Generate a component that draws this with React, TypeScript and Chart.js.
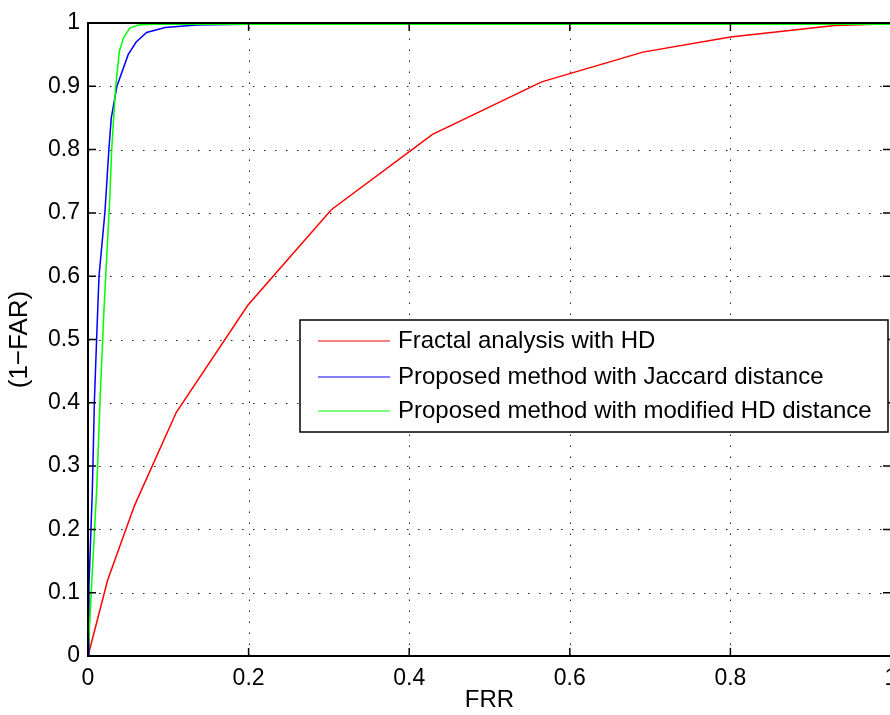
import React, { useEffect, useRef } from "react";
import { Chart, registerables } from "chart.js";

Chart.register(...registerables);

// ---- data ----
const xTicks = [0, 0.2, 0.4, 0.6, 0.8, 1];
const yTicks = [0, 0.1, 0.2, 0.3, 0.4, 0.5, 0.6, 0.7, 0.8, 0.9, 1];

const seriesLabels = [
  "Fractal analysis with HD",
  "Proposed method with Jaccard distance",
  "Proposed method with modified HD distance",
];
const seriesColors = ["#ff0000", "#0000ff", "#00ff00"];

const fractalFRR = [0, 0.0245, 0.058, 0.11, 0.199, 0.303, 0.429, 0.565, 0.691, 0.8, 0.93, 1.0];
const fractalGAR = [0, 0.12, 0.238, 0.385, 0.554, 0.705, 0.824, 0.907, 0.954, 0.978, 0.996, 0.999];

const jaccardFRR = [0, 0.0012, 0.0054, 0.008, 0.011, 0.0137, 0.021, 0.026, 0.029, 0.036, 0.05, 0.06, 0.073, 0.096, 0.135, 0.2, 1.0];
const jaccardGAR = [0, 0.11, 0.262, 0.404, 0.51, 0.6, 0.7, 0.8, 0.85, 0.9, 0.95, 0.97, 0.985, 0.993, 0.997, 0.998, 0.998];

const modHdFRR = [0, 0.0046, 0.0108, 0.015, 0.02, 0.027, 0.0295, 0.0345, 0.039, 0.044, 0.052, 0.0626, 0.08, 1.0];
const modHdGAR = [0, 0.115, 0.262, 0.404, 0.55, 0.72, 0.8, 0.9, 0.955, 0.976, 0.992, 0.997, 0.998, 0.998];

const FONT = '"Liberation Sans", Arial, Helvetica, sans-serif';

const toPoints = (xs: number[], ys: number[]) => xs.map((x, i) => ({ x, y: ys[i] }));

const framePlugin = {
  id: "matlabFrame",
  beforeDatasetsDraw(chart: any) {
    const { ctx, chartArea: a, scales } = chart;
    const x = scales.x;
    const y = scales.y;
    ctx.save();
    ctx.strokeStyle = "#222";
    ctx.lineWidth = 1;
    ctx.setLineDash([1.5, 9.5]);
    for (const v of xTicks) {
      const px = Math.round(x.getPixelForValue(v)) + 0.5;
      ctx.beginPath();
      ctx.moveTo(px, a.bottom);
      ctx.lineTo(px, a.top);
      ctx.stroke();
    }
    for (const v of yTicks) {
      const py = Math.round(y.getPixelForValue(v)) + 0.5;
      ctx.beginPath();
      ctx.moveTo(a.left, py);
      ctx.lineTo(a.right, py);
      ctx.stroke();
    }
    ctx.restore();
  },
  afterDatasetsDraw(chart: any) {
    const { ctx, chartArea: a, scales } = chart;
    const x = scales.x;
    const y = scales.y;
    ctx.save();
    ctx.setLineDash([]);
    ctx.strokeStyle = "#000";
    ctx.lineWidth = 1.5;
    const tl = 8;
    for (const v of xTicks) {
      const px = x.getPixelForValue(v);
      ctx.beginPath();
      ctx.moveTo(px, a.bottom);
      ctx.lineTo(px, a.bottom - tl);
      ctx.moveTo(px, a.top);
      ctx.lineTo(px, a.top + tl);
      ctx.stroke();
    }
    for (const v of yTicks) {
      const py = y.getPixelForValue(v);
      ctx.beginPath();
      ctx.moveTo(a.left, py);
      ctx.lineTo(a.left + tl, py);
      ctx.moveTo(a.right, py);
      ctx.lineTo(a.right - tl, py);
      ctx.stroke();
    }
    ctx.lineWidth = 2;
    ctx.strokeRect(a.left, a.top, a.right - a.left, a.bottom - a.top);
    ctx.restore();
  },
  afterDraw(chart: any) {
    const { ctx } = chart;
    const bx = 300, by = 320, bw = 588, bh = 112;
    ctx.save();
    ctx.fillStyle = "#fff";
    ctx.fillRect(bx, by, bw, bh);
    ctx.strokeStyle = "#000";
    ctx.lineWidth = 1.5;
    ctx.strokeRect(bx, by, bw, bh);
    ctx.font = `24px ${FONT}`;
    ctx.textBaseline = "middle";
    ctx.textAlign = "left";
    const rows = [341, 377, 411];
    chart.data.datasets.forEach((ds: any, i: number) => {
      const ry = rows[i];
      ctx.strokeStyle = ds.borderColor;
      ctx.lineWidth = 1.2;
      ctx.beginPath();
      ctx.moveTo(318, ry);
      ctx.lineTo(390, ry);
      ctx.stroke();
      ctx.fillStyle = "#000";
      ctx.fillText(ds.label, 398, ry);
    });
    ctx.restore();
  },
};

export default function App() {
  const ref = useRef<HTMLCanvasElement | null>(null);

  useEffect(() => {
    if (!ref.current) return;
    const chart = new Chart(ref.current, {
      type: "line",
      data: {
        datasets: [
          { label: seriesLabels[0], data: toPoints(fractalFRR, fractalGAR), borderColor: seriesColors[0], order: 3 },
          { label: seriesLabels[1], data: toPoints(jaccardFRR, jaccardGAR), borderColor: seriesColors[1], order: 2 },
          { label: seriesLabels[2], data: toPoints(modHdFRR, modHdGAR), borderColor: seriesColors[2], order: 1 },
        ].map((d) => ({ ...d, borderWidth: 1.5, pointRadius: 0, tension: 0, fill: false })),
      },
      options: {
        animation: false,
        responsive: false,
        devicePixelRatio: 1,
        layout: { padding: { top: 23, right: 29, left: 0, bottom: 0 } },
        plugins: { legend: { display: false }, tooltip: { enabled: false } },
        scales: {
          x: {
            type: "linear",
            min: 0,
            max: 1,
            afterBuildTicks: (s: any) => { s.ticks = xTicks.map((v) => ({ value: v })); },
            afterFit: (s: any) => { s.height = 59; },
            grid: { display: false, drawTicks: false },
            border: { display: false },
            ticks: { color: "#000", font: { family: FONT, size: 23 }, padding: 9, maxRotation: 0, callback: (v: any) => String(v) },
            title: { display: true, text: "FRR", color: "#000", font: { family: FONT, size: 24 }, padding: { top: 0, bottom: 0 } },
          },
          y: {
            type: "linear",
            min: 0,
            max: 1,
            afterBuildTicks: (s: any) => { s.ticks = yTicks.map((v) => ({ value: v })); },
            afterFit: (s: any) => { s.width = 88; },
            grid: { display: false, drawTicks: false },
            border: { display: false },
            ticks: { color: "#000", font: { family: FONT, size: 23 }, padding: 8, callback: (v: any) => String(Math.round(v * 10) / 10) },
            title: { display: true, text: "(1−FAR)", color: "#000", font: { family: FONT, size: 26 }, padding: { top: 4, bottom: 0 } },
          },
        },
      },
      plugins: [framePlugin],
    });
    return () => chart.destroy();
  }, []);

  return (
    <div style={{ position: "fixed", left: 0, top: 0, width: 890, height: 715, overflow: "hidden", background: "#fff" }}>
      <canvas ref={ref} width={920} height={715} style={{ display: "block", width: 920, height: 715 }} />
    </div>
  );
}
